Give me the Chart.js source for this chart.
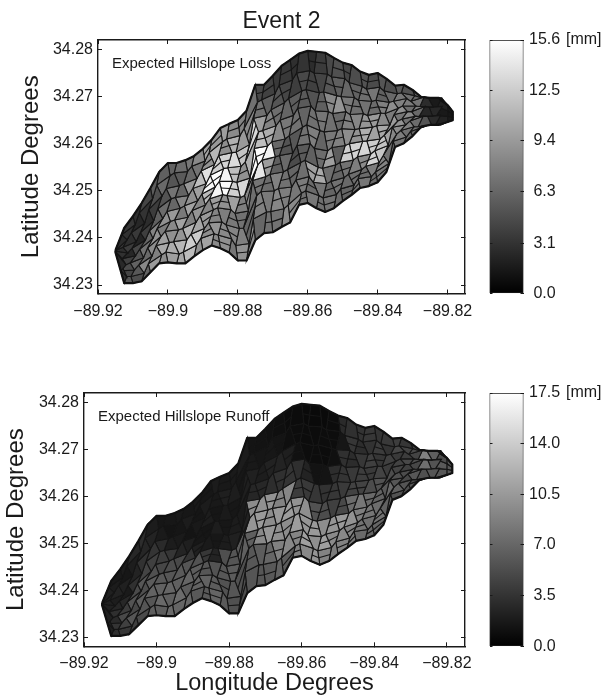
<!DOCTYPE html>
<html>
<head>
<meta charset="utf-8">
<title>Event 2</title>
<style>
    html, body { margin: 0; padding: 0; background: #fff; width: 604px; height: 698px; overflow: hidden; }
    canvas { position: absolute; left: 0; }
</style>
<script src="https://cdn.jsdelivr.net/npm/chart.js@4"></script>
</head>
<body>
<canvas id="lossMap" style="top:0" width="485" height="325"></canvas>
<canvas id="lossBar" style="top:0;left:480px" width="124" height="325"></canvas>
<canvas id="runoffMap" style="top:350px" width="485" height="348"></canvas>
<canvas id="runoffBar" style="top:350px;left:480px" width="124" height="348"></canvas>
<script>
// Data
const lonTicks = [-89.92, -89.9, -89.88, -89.86, -89.84, -89.82];
const lonLabels = ['\u221289.92', '\u221289.9', '\u221289.88', '\u221289.86', '\u221289.84', '\u221289.82'];
const latTicks = [34.23, 34.24, 34.25, 34.26, 34.27, 34.28];
const lossBarTicks = [0, 3.1, 6.3, 9.4, 12.5, 15.6];
const runoffBarTicks = [0, 3.5, 7, 10.5, 14, 17.5];

// Sub-catchment mesh: column longitudes
const colLons = [-89.915, -89.9125, -89.91, -89.9075, -89.905, -89.9025, -89.9, -89.8975, -89.895, -89.8925,
    -89.89, -89.8875, -89.885, -89.8825, -89.88, -89.8775, -89.875, -89.8725, -89.87, -89.8675,
    -89.865, -89.8625, -89.86, -89.8575, -89.855, -89.8525, -89.85, -89.8475, -89.845, -89.8425,
    -89.84, -89.8375, -89.835, -89.8325, -89.83, -89.8275, -89.825, -89.8225, -89.82, -89.8185];

// boundary wiggle per row, odd and even columns
const rowLeanA = [0, .0006, -.0005, .0009, -.0003, .0007, -.0008, .0004, -.0006, 0];
const rowLeanB = [0, -.0007, .0008, -.0004, .001, -.0006, .0005, -.0009, .0007, 0];

// latitudes per column, top to bottom, in 1e-4 degrees above 34
const latTable = [
    [2374,2374,2373,2373,2372,2372,2371,2371,2369,2369],
    [2421,2407,2396,2380,2368,2356,2343,2330,2318,2304],
    [2446,2428,2411,2392,2378,2362,2347,2332,2318,2304],
    [2474,2453,2431,2411,2395,2376,2358,2342,2325,2308],
    [2506,2483,2460,2436,2415,2399,2379,2361,2345,2327],
    [2540,2512,2489,2462,2441,2420,2403,2384,2364,2346],
    [2559,2532,2505,2483,2456,2435,2414,2390,2370,2348],
    [2559,2538,2511,2486,2463,2438,2417,2392,2366,2346],
    [2565,2541,2515,2490,2468,2444,2420,2396,2370,2346],
    [2574,2552,2526,2505,2479,2458,2433,2408,2385,2361],
    [2589,2563,2542,2515,2493,2470,2447,2420,2399,2374],
    [2608,2581,2556,2533,2508,2483,2460,2432,2409,2384],
    [2633,2604,2575,2547,2520,2492,2464,2434,2406,2378],
    [2642,2610,2581,2549,2520,2490,2460,2428,2398,2369],
    [2650,2617,2582,2552,2518,2486,2452,2420,2384,2352],
    [2670,2632,2598,2561,2527,2490,2457,2421,2388,2352],
    [2725,2688,2654,2625,2590,2555,2522,2490,2440,2395],
    [2725,2693,2660,2628,2595,2565,2530,2498,2455,2410],
    [2744,2706,2672,2638,2604,2572,2535,2500,2456,2412],
    [2765,2724,2687,2650,2610,2575,2540,2505,2462,2423],
    [2778,2735,2696,2660,2617,2580,2545,2508,2470,2433],
    [2791,2750,2712,2675,2635,2596,2560,2523,2495,2470],
    [2797,2755,2715,2680,2640,2600,2565,2530,2500,2474],
    [2795,2750,2708,2670,2628,2590,2550,2518,2490,2463],
    [2793,2748,2710,2668,2625,2585,2548,2515,2485,2455],
    [2782,2742,2702,2664,2628,2592,2555,2520,2492,2463],
    [2772,2738,2700,2668,2632,2596,2560,2528,2504,2478],
    [2767,2730,2698,2662,2630,2600,2565,2535,2512,2491],
    [2753,2722,2692,2664,2632,2605,2572,2545,2526,2506],
    [2746,2716,2690,2660,2635,2606,2578,2552,2530,2510],
    [2750,2720,2692,2665,2638,2610,2585,2560,2540,2518],
    [2738,2712,2688,2664,2640,2618,2596,2575,2558,2540],
    [2723,2706,2690,2675,2662,2648,2635,2620,2605,2593],
    [2725,2708,2696,2680,2668,2652,2640,2628,2614,2601],
    [2714,2702,2690,2680,2668,2658,2648,2636,2626,2616],
    [2699,2699,2699,2679,2679,2658,2658,2636,2636,2636],
    [2697,2697,2697,2678,2678,2659,2659,2640,2640,2640],
    [2697,2697,2697,2679,2679,2660,2660,2640,2640,2640],
    [2682,2682,2682,2670,2670,2658,2658,2646,2646,2646],
    [2668,2668,2668,2662,2662,2656,2656,2650,2650,2650]
];

// extra small catchment divides inside the wide middle part, columns 10 to 31, one latitude per band
const divideFirstCol = 10;
const divideTable = [
    [2576,2552,2529,2504,2481,2459,2433,2410,2386],
    [2595,2568,2545,2520,2496,2471,2446,2420,2397],
    [2618,2590,2561,2533,2506,2478,2449,2420,2392],
    [2626,2596,2565,2535,2505,2475,2444,2413,2384],
    [2634,2600,2567,2535,2502,2469,2436,2402,2368],
    [2651,2615,2580,2544,2508,2474,2439,2405,2370],
    [2706,2671,2640,2608,2572,2539,2506,2465,2418],
    [2709,2676,2644,2612,2580,2547,2514,2476,2432],
    [2725,2689,2655,2621,2588,2553,2518,2478,2434],
    [2745,2706,2668,2630,2592,2558,2522,2484,2442],
    [2757,2716,2678,2638,2598,2562,2526,2489,2452],
    [2770,2731,2693,2655,2616,2578,2542,2509,2482],
    [2776,2735,2697,2660,2620,2582,2548,2515,2487],
    [2773,2729,2689,2649,2609,2570,2534,2504,2476],
    [2770,2729,2689,2646,2605,2566,2531,2500,2470],
    [2762,2722,2683,2646,2610,2573,2537,2506,2477],
    [2755,2719,2684,2650,2614,2578,2544,2516,2491],
    [2748,2714,2680,2646,2615,2582,2550,2523,2501],
    [2737,2707,2678,2648,2618,2588,2558,2535,2516],
    [2731,2703,2675,2647,2620,2592,2565,2541,2520],
    [2735,2706,2678,2651,2624,2597,2572,2550,2529],
    [2725,2700,2676,2652,2629,2607,2585,2566,2549]
];

// Expected hillslope loss [mm] per cell, column by column
const lossValues = [
    [3.1,2.6,3.4,2.8,3.0,3.3,2.5,3.1,2.9],
    [3.3,3.0,2.8,3.6,2.4,3.9,4.6,4.2,5.3],
    [2.9,2.4,3.5,2.2,4.3,5.1,6.0,5.4,4.7],
    [4.2,3.1,2.7,3.8,6.2,7.0,6.4,8.3,6.0],
    [5.6,4.8,3.7,5.9,8.1,9.0,8.6,7.8,9.4],
    [5.9,6.4,5.1,6.6,8.9,7.6,9.8,10.4,8.7],
    [6.0,5.2,7.1,6.3,9.3,8.4,8.8,10.6,9.7],
    [6.6,5.5,6.1,8.2,7.4,9.9,9.1,11.2,10.3],
    [7.2,6.3,9.2,8.8,9.9,7.9,11.0,12.6,11.5],
    [8.4,7.1,11.6,9.7,8.3,9.1,10.2,12.4,9.0],
    [10.1,9.0,13.8,15.2,11.4,8.2,9.4,8.6,9.9],
    [9.3,11.2,12.7,15.6,15.0,9.6,8.0,9.1,8.4],
    [9.6,8.7,12.9,15.0,15.4,8.9,7.7,8.4,8.8],
    [8.5,10.8,13.4,11.6,12.8,9.8,7.4,8.1,7.2],
    [8.0,9.4,11.9,8.9,13.2,7.7,7.0,7.8,8.9],
    [6.9,8.4,13.3,10.7,15.5,8.3,6.8,6.2,8.6],
    [4.4,6.9,9.6,11.7,15.4,14.2,7.1,7.9,6.3],
    [4.0,5.8,8.1,10.6,14.9,9.6,6.6,7.4,6.9],
    [3.5,5.2,6.7,8.4,6.3,5.8,7.9,8.2,7.0],
    [3.4,4.3,6.2,7.3,5.1,6.4,6.9,7.7,8.6],
    [2.9,3.8,5.7,6.9,5.3,4.6,6.2,7.3,8.4],
    [3.1,4.4,5.5,6.1,6.9,5.5,6.8,7.5,6.9],
    [2.7,3.9,5.1,6.8,7.7,5.9,9.8,6.5,7.3],
    [3.6,4.2,5.9,7.2,6.1,6.6,10.4,7.1,6.8],
    [4.4,5.3,8.3,6.9,7.4,9.7,6.7,6.2,7.0],
    [4.9,5.8,9.1,6.4,7.9,5.7,6.1,6.9,6.5],
    [4.3,6.3,7.4,7.8,8.6,12.6,7.0,6.4,6.1],
    [4.7,6.0,6.8,8.2,9.0,12.9,7.7,6.7,7.0],
    [5.1,6.7,7.0,9.1,10.7,13.1,8.5,6.6,7.2],
    [4.6,7.2,6.6,9.4,9.9,12.4,13.0,7.6,6.5],
    [5.2,5.9,7.8,8.3,10.2,11.9,12.2,8.0,7.3],
    [4.8,6.4,8.7,7.5,9.5,9.9,8.2,7.0,6.1],
    [5.5,7.3,7.9,8.8,7.2,9.0,8.6,7.7,7.1],
    [5.0,6.8,7.6,6.7,8.4,7.0,7.9,6.9,6.4],
    [5.7,6.3,7.1,7.7,6.5,7.4,6.6,7.0,6.2],
    [2.4,2.0,2.7,1.7,2.3,3.4,5.1,4.6,5.5],
    [1.9,2.2,1.6,1.9,2.4,2.0,2.6,3.1,4.0],
    [1.8,1.5,2.0,1.7,1.5,2.2,2.1,2.8,2.5],
    [1.9,1.6,1.5,1.8,1.4,1.7,1.6,2.0,1.9]
];

// Expected hillslope runoff [mm] per cell, column by column
const runoffValues = [
    [2.2,2.2,2.2,2.2,2.2,2.2,2.2,2.2,2.2],
    [1.7,1.9,2.3,2.0,2.6,3.2,2.9,3.6,3.3],
    [1.9,1.6,2.2,1.8,2.7,4.1,5.0,4.4,3.8],
    [2.7,2.0,2.4,3.3,5.1,5.7,4.9,5.9,4.3],
    [3.1,2.6,3.4,4.7,6.0,5.4,6.4,5.8,5.1],
    [1.9,2.4,3.6,4.4,5.5,6.3,6.8,5.9,6.5],
    [1.5,1.8,2.9,4.2,4.9,6.1,6.7,7.2,6.4],
    [1.6,1.4,1.9,3.7,5.3,5.9,7.0,6.6,7.3],
    [1.7,1.5,1.8,2.5,5.0,6.2,6.6,7.4,6.9],
    [1.6,1.9,1.4,2.1,3.6,5.8,6.9,6.3,7.1],
    [1.8,1.5,1.7,1.6,2.2,5.6,6.4,6.8,6.1],
    [1.6,1.9,2.0,1.5,1.8,3.8,5.9,6.7,6.2],
    [1.9,1.7,1.5,2.0,1.6,2.4,5.7,6.3,6.9],
    [1.7,2.1,1.8,1.6,1.9,5.4,6.0,5.6,6.2],
    [1.8,2.0,1.6,1.9,2.2,5.8,6.3,5.9,5.5],
    [1.9,1.6,2.1,1.8,2.3,6.2,6.6,5.5,5.3],
    [1.4,1.7,2.2,2.6,9.6,10.2,6.5,6.0,5.8],
    [1.3,1.5,2.0,2.7,9.9,10.6,9.4,6.4,5.9],
    [1.2,1.6,2.3,3.1,10.1,9.7,10.3,7.0,6.1],
    [1.0,1.4,2.4,3.3,8.9,10.4,9.9,8.8,6.7],
    [0.8,1.0,2.1,3.6,9.2,10.7,9.6,9.3,6.3],
    [0.8,0.9,1.2,3.2,4.1,10.0,10.8,9.1,8.7],
    [0.7,0.8,0.9,2.4,3.9,9.8,10.3,11.0,9.4],
    [0.7,0.8,0.9,1.3,3.7,5.6,10.5,9.8,10.2],
    [0.7,0.9,0.8,1.4,3.4,5.2,9.7,10.9,9.0],
    [0.8,0.9,1.1,3.1,3.8,4.4,10.2,9.5,8.6],
    [2.9,1.5,3.3,3.6,4.0,5.0,10.6,9.3,8.9],
    [3.3,3.7,3.0,3.9,4.5,7.4,10.1,9.0,8.3],
    [3.5,3.1,3.8,4.2,4.6,8.2,8.7,7.9,7.3],
    [3.8,3.4,4.3,4.0,5.2,7.3,8.1,7.6,7.0],
    [3.6,4.1,3.7,4.6,5.6,6.8,7.5,7.9,6.9],
    [3.9,3.5,4.4,4.1,5.3,6.1,7.2,6.7,6.3],
    [4.2,4.8,3.9,4.5,4.7,5.5,5.9,6.5,5.6],
    [3.7,4.6,4.2,5.0,4.4,5.2,4.9,5.8,5.4],
    [4.5,5.1,4.7,5.4,4.9,5.6,6.0,5.3,5.8],
    [5.4,4.9,8.8,9.0,7.6,5.9,5.5,6.1,5.7],
    [5.9,5.2,6.5,6.8,5.7,6.3,5.9,5.4,6.0],
    [5.5,6.1,5.3,5.8,6.2,5.6,6.0,5.7,5.4],
    [5.7,5.2,5.9,5.4,6.0,5.5,5.8,5.3,5.6]
];

// Styles
const FONT = '"Liberation Sans", Arial, sans-serif';
const INK = '#1a1a1a';
Chart.defaults.font.family = FONT;
Chart.defaults.color = INK;
Chart.defaults.animation = false;

function lean(i, j) {
    if (i === 0 || i >= colLons.length - 2) return 0;
    return i % 2 ? rowLeanB[j] : rowLeanA[j];
}

function vertex(i, j) {
    return { x: colLons[i] + lean(i, j), y: 34 + latTable[i][j] / 10000 };
}

function divideVertex(i, j) {
    const midLean = (lean(i, j) + lean(i, j + 1)) / 2;
    return { x: colLons[i] + midLean, y: 34 + divideTable[i - divideFirstCol][j] / 10000 };
}

function gray(value, max) {
    const g = Math.round(Math.min(1, value / max) * 255);
    return `rgb(${g},${g},${g})`;
}

function buildDatasets(values, max) {
    const outline = [];
    colLons.forEach((lon, i) => outline.push(vertex(i, 0)));
    for (let i = colLons.length - 1; i >= 0; i--) outline.push(vertex(i, 9));
    outline.push(vertex(0, 0));

    const datasets = [{
        data: outline, showLine: true, fill: false, pointRadius: 0,
        borderColor: '#111', borderWidth: 2.2, borderJoinStyle: 'round'
    }];
    for (let i = divideFirstCol; i < divideFirstCol + divideTable.length - 1; i++) {
        for (let j = 0; j < 9; j++) {
            if ((i + j) % 3 === 0) continue;
            datasets.push({
                data: [divideVertex(i, j), divideVertex(i + 1, j)],
                showLine: true, fill: false, pointRadius: 0,
                borderColor: '#151515', borderWidth: 1.1
            });
        }
    }
    values.forEach((col, i) => {
        col.forEach((value, j) => {
            datasets.push({
                data: [vertex(i, j), vertex(i + 1, j), vertex(i + 1, j + 1), vertex(i, j + 1), vertex(i, j)],
                showLine: true, fill: 'shape', pointRadius: 0,
                backgroundColor: gray(value, max), borderColor: '#151515', borderWidth: 1.1
            });
        });
    });
    return datasets;
}

// inward tick marks on all sides, like the original axes box
const inwardGrid = { drawOnChartArea: false, drawTicks: true, tickLength: -4, color: INK, lineWidth: 1, z: 1 };
const boxBorder = { display: true, color: INK, width: 1.4, z: 1 };

function renderMap(id, values, max, cfg) {
    new Chart(document.getElementById(id), {
        type: 'scatter',
        data: { datasets: buildDatasets(values, max) },
        options: {
            responsive: false,
            layout: { padding: { top: cfg.padTop, right: 20, left: 0, bottom: 0 } },
            plugins: {
                legend: { display: false },
                tooltip: { enabled: false },
                title: { display: false }
            },
            scales: {
                x: {
                    position: 'bottom', min: -89.92, max: -89.815,
                    afterBuildTicks: s => { s.ticks = lonTicks.map(v => ({ value: v })); },
                    afterFit: s => { s.height = cfg.bottomH; s.paddingLeft = 0; s.paddingRight = 0; },
                    ticks: { autoSkip: false, maxRotation: 0, padding: 12, font: { size: 16 }, callback: (v, i) => lonLabels[i] },
                    grid: inwardGrid, border: boxBorder,
                    title: cfg.xTitle
                        ? { display: true, text: cfg.xTitle, font: { size: 23.5 }, padding: { top: 0, bottom: 0 } }
                        : { display: false }
                },
                x2: {
                    position: 'top', min: -89.92, max: -89.815,
                    afterBuildTicks: s => { s.ticks = lonTicks.map(v => ({ value: v })); },
                    afterFit: s => { s.height = 0; s.paddingLeft = 0; s.paddingRight = 0; },
                    ticks: { display: false }, grid: inwardGrid, border: boxBorder
                },
                y: {
                    position: 'left', min: 34.2282, max: 34.282,
                    afterBuildTicks: s => { s.ticks = latTicks.map(v => ({ value: v })); },
                    afterFit: s => { s.width = cfg.leftW; s.paddingTop = 0; s.paddingBottom = 0; },
                    ticks: { autoSkip: false, padding: 9, font: { size: 16 }, callback: v => v.toFixed(2) },
                    grid: inwardGrid, border: boxBorder,
                    title: { display: true, text: 'Latitude Degrees', font: { size: 24 }, padding: { top: cfg.yTitlePad, bottom: 0 } }
                },
                y2: {
                    position: 'right', min: 34.2282, max: 34.282,
                    afterBuildTicks: s => { s.ticks = latTicks.map(v => ({ value: v })); },
                    afterFit: s => { s.width = 0; s.paddingTop = 0; s.paddingBottom = 0; },
                    ticks: { display: false }, grid: inwardGrid, border: boxBorder
                }
            }
        },
        plugins: [{
            id: 'panelLabel',
            afterDraw(chart) {
                const ctx = chart.ctx;
                const area = chart.chartArea;
                ctx.save();
                ctx.font = '15px ' + FONT;
                ctx.fillStyle = INK;
                ctx.textBaseline = 'middle';
                ctx.fillText(cfg.label, cfg.labelX, area.top + cfg.labelDy);
                if (cfg.title) {
                    ctx.font = '23px ' + FONT;
                    ctx.textAlign = 'center';
                    ctx.fillText(cfg.title, (area.left + area.right) / 2, 22);
                }
                ctx.restore();
            }
        }]
    });
}

function renderColorBar(id, ticks, max, padTop, padBottom) {
    new Chart(document.getElementById(id), {
        type: 'bar',
        data: {
            labels: ['mm'],
            datasets: [{
                data: [[0, max]],
                categoryPercentage: 1,
                barPercentage: 1,
                borderColor: INK,
                borderWidth: 1,
                borderSkipped: false,
                backgroundColor: context => {
                    const area = context.chart.chartArea;
                    if (!area) return '#888';
                    const grad = context.chart.ctx.createLinearGradient(0, area.bottom, 0, area.top);
                    grad.addColorStop(0, '#000');
                    grad.addColorStop(1, '#fff');
                    return grad;
                }
            }]
        },
        options: {
            responsive: false,
            layout: { padding: { top: padTop, bottom: padBottom, left: 9.5, right: 0 } },
            plugins: { legend: { display: false }, tooltip: { enabled: false } },
            scales: {
                x: { display: false },
                y: {
                    position: 'right', min: 0, max: max,
                    afterBuildTicks: s => { s.ticks = ticks.map(v => ({ value: v })); },
                    afterFit: s => { s.width = 80.5; s.paddingTop = 0; s.paddingBottom = 0; },
                    ticks: { autoSkip: false, crossAlign: 'center', padding: 8.5, font: { size: 16 }, callback: v => v.toFixed(1) },
                    grid: { drawOnChartArea: false, drawTicks: true, tickLength: -3, color: INK, z: 2 },
                    border: { display: false }
                },
                yLeft: {
                    position: 'left', min: 0, max: max,
                    afterBuildTicks: s => { s.ticks = ticks.map(v => ({ value: v })); },
                    afterFit: s => { s.width = 0; s.paddingTop = 0; s.paddingBottom = 0; },
                    ticks: { display: false },
                    grid: { drawOnChartArea: false, drawTicks: true, tickLength: -3, color: INK, z: 2 },
                    border: { display: false }
                }
            }
        },
        plugins: [{
            id: 'units',
            afterDraw(chart) {
                const ctx = chart.ctx;
                ctx.save();
                ctx.font = '16px ' + FONT;
                ctx.fillStyle = INK;
                ctx.textBaseline = 'middle';
                ctx.fillText('[mm]', 86, chart.chartArea.top);
                ctx.restore();
            }
        }]
    });
}

renderMap('lossMap', lossValues, 15.6, {
    title: 'Event 2', padTop: 40, bottomH: 31.5, leftW: 98, yTitlePad: 17,
    label: 'Expected Hillslope Loss', labelX: 112, labelDy: 24
});
renderColorBar('lossBar', lossBarTicks, 15.6, 40, 31.5);
renderMap('runoffMap', runoffValues, 17.5, {
    xTitle: 'Longitude Degrees', padTop: 43, bottomH: 51.7, leftW: 84, yTitlePad: 2,
    label: 'Expected Hillslope Runoff', labelX: 98, labelDy: 24
});
renderColorBar('runoffBar', runoffBarTicks, 17.5, 43, 51.7);
</script>
</body>
</html>
